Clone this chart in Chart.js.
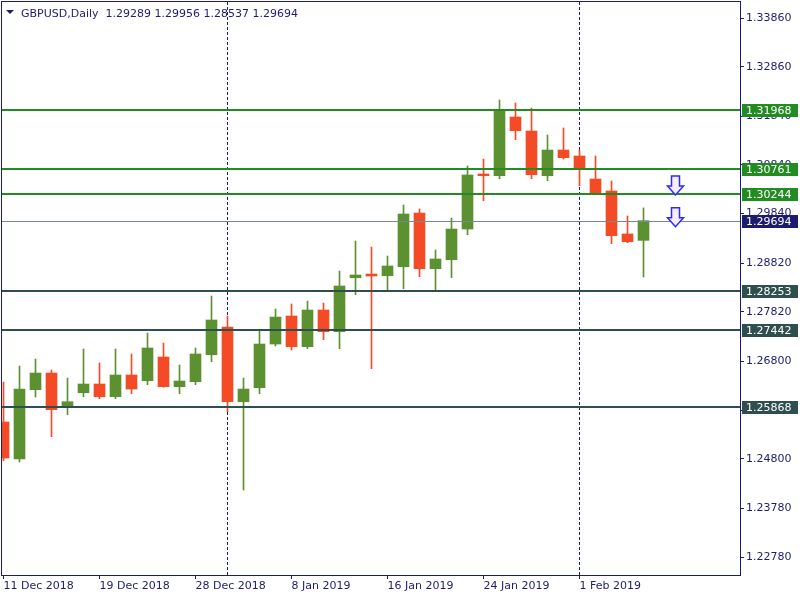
<!DOCTYPE html>
<html>
<head>
<meta charset="utf-8">
<script src="https://cdn.jsdelivr.net/npm/chart.js@4.4.1/dist/chart.umd.min.js"></script>
<style>
html, body { margin: 0; padding: 0; background: #fff; }
</style>
</head>
<body>
<canvas id="chart" width="800" height="600"></canvas>
<script>
// daily candles
const symbol = 'GBPUSD,Daily';
const dates = [
  '11 Dec 2018', '12 Dec 2018', '13 Dec 2018', '14 Dec 2018', '17 Dec 2018', '18 Dec 2018',
  '19 Dec 2018', '20 Dec 2018', '21 Dec 2018', '24 Dec 2018', '26 Dec 2018', '27 Dec 2018',
  '28 Dec 2018', '31 Dec 2018', '2 Jan 2019', '3 Jan 2019', '4 Jan 2019', '7 Jan 2019',
  '8 Jan 2019', '9 Jan 2019', '10 Jan 2019', '11 Jan 2019', '14 Jan 2019', '15 Jan 2019',
  '16 Jan 2019', '17 Jan 2019', '18 Jan 2019', '21 Jan 2019', '22 Jan 2019', '23 Jan 2019',
  '24 Jan 2019', '25 Jan 2019', '28 Jan 2019', '29 Jan 2019', '30 Jan 2019', '31 Jan 2019',
  '1 Feb 2019', '4 Feb 2019', '5 Feb 2019', '6 Feb 2019', '7 Feb 2019'
];
const opens = [
  1.25555, 1.24794, 1.26219, 1.26562, 1.25863, 1.26157, 1.26336, 1.26075, 1.26521, 1.26404,
  1.26891, 1.26281, 1.26383, 1.26938, 1.27508, 1.25972, 1.26260, 1.27158, 1.27734, 1.27103,
  1.27857, 1.27411, 1.28521, 1.28597, 1.28562, 1.28747, 1.29851, 1.28706, 1.28891, 1.29522,
  1.30653, 1.30618, 1.31825, 1.31537, 1.30618, 1.31146, 1.31023, 1.30550, 1.30304, 1.29420,
  1.29289
];
const highs = [
  1.26377, 1.26706, 1.26850, 1.26624, 1.26459, 1.27056, 1.26768, 1.27056, 1.26953, 1.27385,
  1.27179, 1.26727, 1.27076, 1.28145, 1.27734, 1.26459, 1.27446, 1.27878, 1.27981, 1.28042,
  1.28001, 1.28659, 1.29276, 1.29152, 1.28967, 1.30016, 1.29934, 1.29091, 1.29749, 1.30818,
  1.30961, 1.32174, 1.32113, 1.32010, 1.31455, 1.31599, 1.31146, 1.31023, 1.30509, 1.29790,
  1.29956
];
const lows = [
  1.24759, 1.24733, 1.26069, 1.25253, 1.25705, 1.26075, 1.26034, 1.26034, 1.26137, 1.26322,
  1.26270, 1.26137, 1.26322, 1.26795, 1.25767, 1.24157, 1.26137, 1.27117, 1.27035, 1.27062,
  1.27247, 1.27062, 1.28172, 1.26651, 1.28234, 1.28295, 1.28542, 1.28268, 1.28521, 1.29405,
  1.30104, 1.30556, 1.31358, 1.30556, 1.30515, 1.30961, 1.30413, 1.30250, 1.29220, 1.29241,
  1.28537
];
const closes = [
  1.24815, 1.26233, 1.26562, 1.25808, 1.25972, 1.26336, 1.26075, 1.26521, 1.26233, 1.27076,
  1.26281, 1.26398, 1.26953, 1.27652, 1.25972, 1.26233, 1.27158, 1.27713, 1.27103, 1.27857,
  1.27411, 1.28351, 1.28577, 1.28556, 1.28762, 1.29831, 1.28706, 1.28906, 1.29522, 1.30633,
  1.30618, 1.31969, 1.31543, 1.30639, 1.31146, 1.30988, 1.30762, 1.30263, 1.29385, 1.29261,
  1.29694
];
const xTickIdx = [0, 6, 12, 18, 24, 30, 36];
const yTicks = [1.33860, 1.32860, 1.31840, 1.30840, 1.29840, 1.28820, 1.27820, 1.26800,
                1.25800, 1.24800, 1.23780, 1.22780];
const separators = [14, 36];
const resistance = [1.31968, 1.30761, 1.30244];
const support = [1.28253, 1.27442, 1.25868];
const bid = 1.29694;
const arrowIdx = [42, 42];
const arrowTip = [1.30222, 1.29570];

const UP = '#5B9130';
const DOWN = '#F24B25';
const NAVY = '#1C1C74';
const FONT = 'DejaVu Sans';

const candleColors = opens.map((o, i) => closes[i] >= o ? UP : DOWN);

const overlay = {
  id: 'overlay',
  beforeDatasetsDraw(chart) {
    const {ctx, chartArea: a, scales: {x}} = chart;
    ctx.save();
    ctx.strokeStyle = NAVY;
    ctx.lineWidth = 1;
    ctx.setLineDash([3, 2]);
    separators.forEach(i => {
      const px = Math.round(x.getPixelForValue(i) - 0.5) + 0.5;
      ctx.beginPath();
      ctx.moveTo(px, a.top);
      ctx.lineTo(px, a.bottom);
      ctx.stroke();
    });
    ctx.restore();
  },
  afterDatasetsDraw(chart) {
    const {ctx, chartArea: a, scales: {x, y}} = chart;
    ctx.save();
    const hline = (p, color, w) => {
      const py = Math.round(y.getPixelForValue(p)) + (w % 2 ? 0.5 : 0);
      ctx.strokeStyle = color;
      ctx.lineWidth = w;
      ctx.beginPath();
      ctx.moveTo(a.left, py);
      ctx.lineTo(a.right, py);
      ctx.stroke();
    };
    hline(bid, '#778899', 1);
    resistance.forEach(p => hline(p, '#228B22', 2));
    support.forEach(p => hline(p, '#2F4F4F', 2));

    // hollow down arrows
    arrowIdx.forEach((idx, k) => {
      const cx = x.getPixelForValue(idx);
      const ty = y.getPixelForValue(arrowTip[k]);
      ctx.beginPath();
      ctx.moveTo(cx, ty);
      ctx.lineTo(cx - 8, ty - 9);
      ctx.lineTo(cx - 4, ty - 9);
      ctx.lineTo(cx - 4, ty - 19);
      ctx.lineTo(cx + 4, ty - 19);
      ctx.lineTo(cx + 4, ty - 9);
      ctx.lineTo(cx + 8, ty - 9);
      ctx.closePath();
      ctx.fillStyle = '#F6EEFF';
      ctx.fill();
      ctx.strokeStyle = '#2B2BFF';
      ctx.lineWidth = 1.5;
      ctx.stroke();
    });
    ctx.restore();
  },
  afterDraw(chart) {
    const {ctx, chartArea: a, scales: {y}} = chart;
    ctx.save();
    ctx.strokeStyle = NAVY;
    ctx.lineWidth = 1;
    ctx.strokeRect(1.5, 1.5, a.right - 1, a.bottom - 1);

    ctx.font = '11px "' + FONT + '"';
    ctx.textBaseline = 'middle';
    ctx.textAlign = 'left';
    const tag = (p, bg) => {
      const py = Math.round(y.getPixelForValue(p));
      ctx.fillStyle = bg;
      ctx.fillRect(a.right + 2, py - 6, 56, 13);
      ctx.fillStyle = '#ffffff';
      ctx.fillText(p.toFixed(5), a.right + 6, py + 1);
    };
    resistance.forEach(p => tag(p, '#228B22'));
    tag(bid, '#1C1C6E');
    support.forEach(p => tag(p, '#2F4F4F'));

    // title
    const n = opens.length - 1;
    ctx.fillStyle = NAVY;
    ctx.beginPath();
    ctx.moveTo(6, 10);
    ctx.lineTo(14, 10);
    ctx.lineTo(10, 14);
    ctx.closePath();
    ctx.fill();
    ctx.textBaseline = 'alphabetic';
    const vals = [opens[n], highs[n], lows[n], closes[n]].map(v => v.toFixed(5)).join(' ');
    ctx.fillText(symbol + '  ' + vals, 21, 17);
    ctx.restore();
  }
};

new Chart(document.getElementById('chart'), {
  type: 'bar',
  data: {
    datasets: [{
      data: opens.map((o, i) => ({x: i, y: [o, closes[i]]})),
      backgroundColor: candleColors,
      barThickness: 11,
      minBarLength: 1,
      grouped: false,
      clip: 0
    }, {
      data: lows.map((l, i) => ({x: i, y: [l, highs[i]]})),
      backgroundColor: candleColors,
      barThickness: 1,
      grouped: false,
      clip: 0
    }]
  },
  options: {
    responsive: false,
    animation: false,
    layout: { padding: { left: 2, top: 2, right: 0, bottom: 0 } },
    plugins: { legend: { display: false }, tooltip: { enabled: false } },
    scales: {
      x: {
        type: 'linear',
        offset: false,
        min: -0.09375,
        max: 46.03125,
        afterBuildTicks: s => { s.ticks = xTickIdx.map(v => ({value: v})); },
        afterFit: s => { s.height = 25; s.paddingLeft = 0; s.paddingRight = 0; },
        ticks: {
          autoSkip: false, maxRotation: 0, align: 'start', padding: 1,
          color: NAVY, font: { family: FONT, size: 11 },
          callback: v => dates[v]
        },
        grid: { offset: false, drawOnChartArea: false, tickLength: 4, color: NAVY },
        border: { display: false }
      },
      y: {
        position: 'right',
        min: 1.22410,
        max: 1.34189,
        afterBuildTicks: s => { s.ticks = yTicks.map(v => ({value: v})); },
        afterFit: s => { s.width = 60; s.paddingTop = 0; s.paddingBottom = 0; },
        ticks: {
          autoSkip: false, padding: 2,
          color: NAVY, font: { family: FONT, size: 11 },
          callback: v => v.toFixed(5)
        },
        grid: { drawOnChartArea: false, tickLength: 4, color: NAVY },
        border: { display: false }
      }
    }
  },
  plugins: [overlay]
});
</script>
</body>
</html>
